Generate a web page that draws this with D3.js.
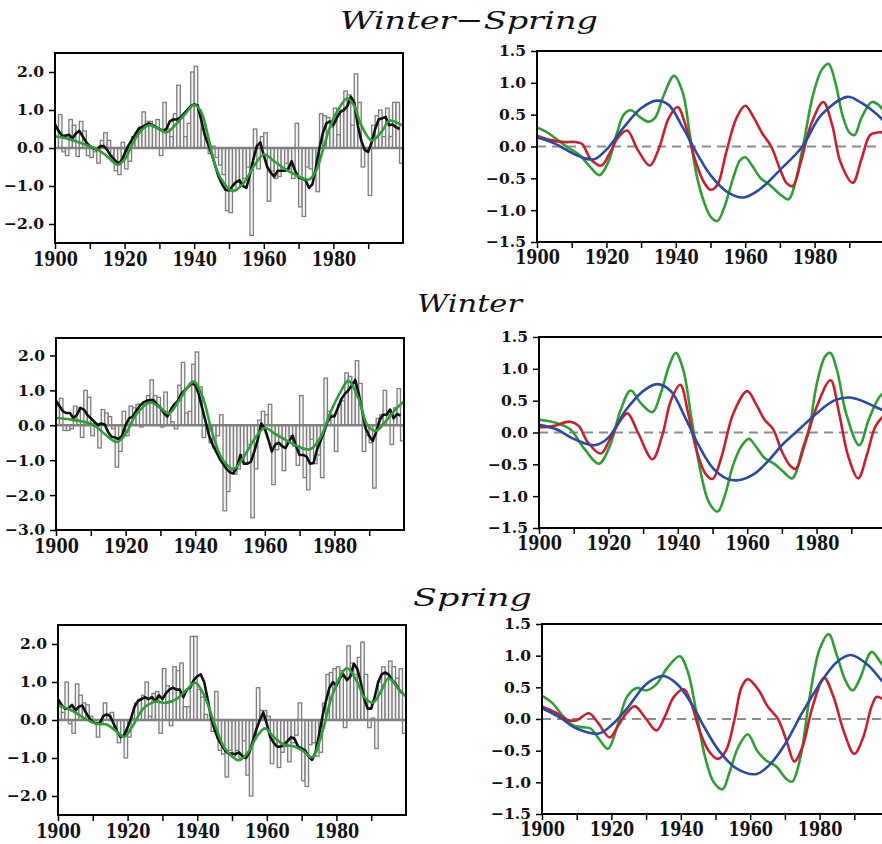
<!DOCTYPE html>
<html lang="en">
<head>
  <meta charset="UTF-8">
  <title>Winter-Spring</title>
  <script src="https://cdn.jsdelivr.net/npm/d3@7/dist/d3.min.js"></script>
  <style>
    body { margin: 0; background: #fff; }
    svg { display: block; }
  </style>
</head>
<body>
  <svg width="882" height="844"></svg>
  <script>
    // yearly index, 1900..1999
    var years = d3.range(1900, 2000)

    // ---- Winter-Spring ----
    var wsBars = [
      0.55, 0.88, -0.1, -0.2, 0.75, 0.6, -0.22, 0.7, 0.45, -0.2,
      -0.25, -0.1, -0.4, 0.2, 0.4, 0.2, -0.2, -0.6, -0.7, 0.15,
      -0.55, -0.35, 0.3, 0.4, 0.55, 0.95, 0.7, 0.7, 0.6, 0.75,
      -0.2, 1.2, 0.5, 0.3, 0.9, 1.65, 0.8, 0.3, 0.65, 2.0,
      2.15, 1.0, 0.5, 0.25, -0.15, 0.05, -0.25, -0.45, -0.7, -1.65,
      -1.7, -1.1, -0.9, -1.0, -0.8, -0.5, -2.3, 0.5, -0.55, 0.3,
      0.4, -1.4, -0.6, -0.8, -0.75, -0.6, -0.4, -0.55, -0.8, 0.65,
      -1.55, -1.8, -0.5, -0.55, -0.7, -1.15, 0.9, 0.85, 0.8, 0.55,
      1.05, 0.35, 1.0, 1.5, 1.4, 0.6, 1.95, 1.2, -0.5, -0.1,
      -1.25, 0.6, 0.85, 1.0, 0.3, 1.05, 0.3, 1.2, 1.2, -0.4
    ]
    var wsMean = [
      0.62, 0.45, 0.33, 0.32, 0.35, 0.25, 0.38, 0.45, 0.3, 0.15,
      0.05, 0.0, -0.05, 0.05, 0.05, -0.05, -0.2, -0.3, -0.4, -0.35,
      -0.15, 0.05, 0.2, 0.35, 0.5, 0.55, 0.6, 0.65, 0.6, 0.55,
      0.5, 0.45, 0.5, 0.7, 0.75, 0.75, 0.8, 0.9, 1.0, 1.1,
      1.15, 1.12, 0.75, 0.35, 0.1, -0.15, -0.45, -0.75, -0.95, -1.1,
      -1.12, -1.0, -0.9, -0.85, -1.0, -1.05, -0.7, -0.3, 0.05, 0.15,
      -0.2, -0.5, -0.65, -0.75, -0.6, -0.6, -0.6, -0.55, -0.35, -0.6,
      -0.78, -0.8, -0.85, -1.05, -0.95, -0.5, 0.0, 0.4, 0.65, 0.7,
      0.6, 0.8, 0.95, 1.0, 1.1, 1.35, 1.2, 0.6, 0.2, -0.05,
      -0.1, 0.15, 0.5, 0.75, 0.78, 0.82, 0.6, 0.62, 0.55, 0.5
    ]
    var wsSmooth = [[1900, 0.31], [1903, 0.26], [1906, 0.18], [1909, 0.08], [1912, -0.03], [1915, -0.22], [1918, -0.44],
      [1920, -0.3], [1922, 0.05], [1924, 0.38], [1927, 0.6], [1929.5, 0.52], [1932, 0.41], [1934.5, 0.6], [1937, 0.85],
      [1940, 1.14], [1942, 0.95], [1944, 0.3], [1946, -0.45], [1948, -0.85], [1951, -1.14], [1954, -0.95], [1957, -0.5],
      [1960, -0.17], [1963, -0.35], [1966, -0.55], [1969, -0.7], [1973, -0.83], [1975, -0.6], [1977, -0.05], [1979, 0.55],
      [1981, 0.95], [1984, 1.31], [1986, 1.1], [1988, 0.6], [1991, 0.2], [1994, 0.45], [1996, 0.72], [1998, 0.68], [2000, 0.58]]
    var wsGreen = [[1900, 0.3], [1903, 0.22], [1906, 0.1], [1909, -0.02], [1912, -0.12], [1915, -0.3], [1918, -0.45],
      [1920.5, -0.25], [1923, 0.2], [1925, 0.5], [1927, 0.57], [1929.5, 0.47], [1932, 0.39], [1934, 0.45], [1936.5, 0.8],
      [1939.5, 1.11], [1942, 0.85], [1944, 0.2], [1946, -0.45], [1948, -0.85], [1950, -1.1], [1952, -1.17], [1954, -0.95],
      [1956.5, -0.5], [1958.5, -0.22], [1960, -0.17], [1962, -0.3], [1964.5, -0.5], [1967, -0.6], [1970, -0.75],
      [1972.5, -0.83], [1974.5, -0.55], [1977, 0.1], [1979.5, 0.8], [1982, 1.2], [1984, 1.3], [1986, 1.0], [1988, 0.5],
      [1990, 0.22], [1991.5, 0.18], [1993.5, 0.45], [1996.5, 0.7], [1998.5, 0.65], [2000, 0.55]]
    var wsRed = [[1900, 0.17], [1904, 0.1], [1908, 0.07], [1911, 0.07], [1913, 0.04], [1915.5, -0.2], [1918.5, -0.3],
      [1921, -0.1], [1923.5, 0.15], [1926, 0.25], [1929, -0.05], [1932.5, -0.3], [1935, -0.05], [1938, 0.45], [1940.5, 0.62],
      [1943, 0.3], [1945.5, -0.2], [1948, -0.55], [1950, -0.68], [1952, -0.6], [1954.5, -0.1], [1957.5, 0.45], [1960, 0.64],
      [1962.5, 0.45], [1965, 0.2], [1967.5, 0.0], [1970, -0.35], [1972, -0.58], [1973.7, -0.62], [1976, -0.25], [1979, 0.35],
      [1982.5, 0.7], [1985, 0.35], [1987.5, -0.25], [1991, -0.57], [1993.5, -0.2], [1996, 0.18], [1998, 0.22], [2000, 0.22]]
    var wsBlue = [[1900, 0.14], [1905, 0.05], [1910, -0.1], [1913.5, -0.18], [1916.5, -0.2], [1920, -0.05], [1925, 0.3],
      [1930, 0.6], [1934.5, 0.72], [1938, 0.65], [1942, 0.3], [1946, -0.1], [1950, -0.45], [1955, -0.72], [1959.5, -0.8],
      [1964, -0.68], [1970, -0.37], [1976.5, 0.0], [1982, 0.5], [1989.5, 0.78], [1993, 0.7], [1997, 0.55], [2000, 0.4]]

    // ---- Winter ----
    var wBars = [
      0.55, 0.77, -0.15, -0.15, -0.1, 0.55, 0.5, -0.35, 1.0, 0.8,
      -0.3, 0.05, -0.65, 0.45, 0.35, 0.25, -0.1, -1.2, -0.75, 0.4,
      -0.3, 0.55, 0.5, 0.6, -0.05, 0.6, 0.85, 1.3, 0.85, 0.8,
      -0.05, 0.95, 0.3, 0.1, -0.1, 1.15, 1.8, 0.35, 0.4, 1.75,
      2.1, 1.1, -0.35, -0.1, -0.5, -0.65, -0.3, 0.3, -2.45, -1.9,
      -1.3, -1.4, -1.25, -0.85, -1.1, -0.55, -2.65, -1.25, 0.15, 0.4,
      0.3, 0.6, -1.7, -0.7, -0.35, -1.3, -0.5, -0.3, -0.6, -1.15,
      0.85, -1.5, -1.85, -0.4, -1.1, -0.85, -1.5, 1.35, 0.4, 0.3,
      -0.75, 0.6, 0.7, 1.5, 1.4, 1.2, 1.85, 1.2, -0.75, -0.3,
      -0.5, -1.8, 0.2, 0.3, 1.0, 0.3, -0.55, 0.5, 1.05, -0.45
    ]
    var wMean = [
      0.7, 0.55, 0.4, 0.35, 0.35, 0.2, 0.3, 0.5, 0.45, 0.3,
      0.2, 0.1, 0.0, 0.05, 0.02, -0.2, -0.33, -0.35, -0.4, -0.3,
      0.0, 0.2, 0.25, 0.4, 0.55, 0.65, 0.7, 0.72, 0.72, 0.6,
      0.5, 0.35, 0.25, 0.45, 0.6, 0.7, 0.9, 1.0, 1.1, 1.2,
      1.15, 0.9, 0.5, 0.1, -0.3, -0.55, -0.75, -0.95, -1.1, -1.25,
      -1.35, -1.38, -1.2, -0.85, -1.1, -1.1, -1.05, -0.75, -0.4, 0.05,
      -0.1, -0.4, -0.75, -0.55, -0.5, -0.6, -0.65, -0.45, -0.3, -0.6,
      -0.85, -0.85, -0.9, -1.1, -1.08, -0.7, -0.45, -0.2, 0.1, 0.25,
      0.25, 0.5, 0.75, 0.9, 1.0, 1.15, 1.3, 0.9, 0.4, -0.1,
      -0.3, -0.45, -0.2, 0.15, 0.3, 0.3, 0.45, 0.2, 0.32, 0.28
    ]
    var wSmooth = [[1900, 0.21], [1904, 0.17], [1908, 0.1], [1911, 0.0], [1914, -0.25], [1917.5, -0.48], [1920, -0.25],
      [1923, 0.3], [1927, 0.65], [1930, 0.5], [1932.5, 0.34], [1935, 0.65], [1939.5, 1.25], [1942, 0.85], [1945, -0.25],
      [1948, -1.0], [1951, -1.25], [1954, -0.9], [1957, -0.4], [1960, -0.08], [1963, -0.25], [1966, -0.42], [1969, -0.58],
      [1973, -0.69], [1976, -0.35], [1979, 0.4], [1982, 1.0], [1984, 1.28], [1987, 0.75], [1989.5, 0.0], [1992, -0.16],
      [1995, 0.15], [1998, 0.5], [2000, 0.68]]
    var wGreen = [[1900, 0.2], [1905, 0.15], [1909, 0.05], [1913, -0.25], [1917.3, -0.49], [1920.5, -0.2], [1923.5, 0.35],
      [1926.4, 0.66], [1929.5, 0.45], [1932.7, 0.32], [1935, 0.6], [1937.5, 1.05], [1939.4, 1.25], [1941.5, 1.0], [1944, 0.2],
      [1946.5, -0.6], [1949, -1.1], [1951.5, -1.24], [1953.5, -1.0], [1956, -0.5], [1958.5, -0.2], [1960.5, -0.1],
      [1962.5, -0.22], [1965, -0.4], [1968, -0.5], [1970.5, -0.62], [1973, -0.72], [1976, -0.25], [1978, 0.1], [1980, 0.75],
      [1982.5, 1.2], [1984, 1.25], [1986, 0.95], [1988.5, 0.3], [1992.3, -0.2], [1995, 0.2], [1998, 0.55], [2000, 0.65]]
    var wRed = [[1900, 0.08], [1904, 0.1], [1909, 0.17], [1911.5, 0.1], [1914, -0.15], [1917.8, -0.33], [1920.5, -0.1],
      [1923, 0.15], [1925.5, 0.3], [1928.5, 0.0], [1932.7, -0.42], [1935.5, -0.05], [1938, 0.5], [1940.7, 0.75], [1943, 0.3],
      [1945.5, -0.3], [1948, -0.65], [1950, -0.73], [1952.5, -0.4], [1956, 0.3], [1960, 0.65], [1962.5, 0.45], [1965, 0.2],
      [1967.5, 0.05], [1970, -0.3], [1972.5, -0.53], [1974, -0.57], [1976.5, -0.2], [1980, 0.4], [1984, 0.82], [1986.5, 0.3],
      [1989, -0.35], [1992, -0.72], [1994.5, -0.35], [1997, 0.1], [2000, 0.3]]
    var wBlue = [[1900, 0.12], [1905, 0.05], [1910, -0.1], [1916, -0.2], [1920, -0.08], [1925, 0.35], [1930, 0.65],
      [1934, 0.76], [1938, 0.65], [1942, 0.25], [1946, -0.2], [1950, -0.55], [1954, -0.72], [1957.5, -0.75], [1962, -0.65],
      [1966, -0.45], [1970, -0.2], [1975, 0.05], [1980, 0.3], [1985, 0.5], [1989.4, 0.55], [1993, 0.5], [1997, 0.4], [2000, 0.33]]

    // ---- Spring ----
    var spBars = [
      0.4, 0.2, 1.0, -0.1, -0.35, 0.95, 0.65, 0.45, 0.4, 0.1,
      0.0, -0.45, -0.05, 0.45, 0.15, 0.2, -0.2, -0.6, -0.45, -1.0,
      -0.45, 0.05, 0.45, 0.55, 0.65, 1.0, 0.1, 0.7, 0.75, -0.35,
      1.35, 0.9, -0.15, 1.4, 1.3, 1.5, 0.35, 0.35, 2.2, 2.2,
      0.8, 0.6, 0.15, 0.0, -0.3, 0.75, -0.8, -0.9, -1.5, -0.8,
      -0.95, -0.8, -1.0, -0.55, -1.45, -2.0, -0.5, 0.85, 0.25, 0.25,
      0.1, -1.15, -0.65, -1.25, -0.85, -0.7, -1.1, -0.6, -0.4, 0.45,
      -1.6, -1.75, -0.65, -0.6, -0.95, -0.85, 0.45, 1.2, 1.25, 1.35,
      1.4, 1.3, -0.2, 1.95, 1.5, 1.2, 1.65, 2.05, 1.2, -0.2,
      0.05, -0.75, 1.0, 1.4, 1.2, 1.55, 1.4, 1.1, 1.35, -0.35
    ]
    var spMean = [
      0.55, 0.4, 0.3, 0.3, 0.4, 0.25, 0.35, 0.38, 0.2, 0.05,
      -0.05, -0.1, -0.08, 0.1, 0.15, 0.1, -0.1, -0.3, -0.45, -0.4,
      -0.2, 0.05, 0.35, 0.5, 0.55, 0.6, 0.55, 0.6, 0.5, 0.65,
      0.55, 0.7, 0.8, 0.85, 0.8, 0.8, 0.6, 0.8, 0.85, 1.05,
      1.15, 1.2, 1.0, 0.55, 0.05, -0.25, -0.5, -0.65, -0.8, -0.88,
      -0.88, -0.9, -0.85, -0.95, -1.0, -0.85, -0.55, -0.25, 0.0, 0.2,
      -0.1, -0.45, -0.6, -0.7, -0.7, -0.65, -0.55, -0.45, -0.5, -0.7,
      -0.75, -0.8, -0.95, -1.05, -0.85, -0.4, 0.1, 0.5, 0.85, 1.0,
      0.9, 1.1, 1.2, 1.05, 1.15, 1.48, 1.35, 1.0, 0.55, 0.3,
      0.3, 0.6, 1.0, 1.2, 1.25, 1.2, 1.05, 0.95, 0.8, 0.7
    ]
    var spSmooth = [[1900, 0.38], [1904, 0.25], [1908, 0.02], [1911, -0.1], [1914, -0.12], [1916.5, -0.28], [1919, -0.44],
      [1921.5, -0.15], [1924.5, 0.3], [1928, 0.48], [1931, 0.45], [1934, 0.55], [1937, 0.8], [1939.5, 0.98], [1942, 0.65],
      [1945, -0.1], [1948, -0.75], [1952, -1.06], [1955, -0.8], [1957, -0.45], [1959.5, -0.22], [1962, -0.45], [1965, -0.65],
      [1968, -0.7], [1970.5, -0.82], [1973, -0.98], [1976, -0.3], [1979, 0.7], [1983, 1.36], [1986, 1.0], [1988, 0.6],
      [1990.5, 0.46], [1992.5, 0.7], [1995, 1.1], [1998, 0.8], [2000, 0.62]]
    var spGreen = [[1900, 0.37], [1903, 0.25], [1906, 0.05], [1909, -0.1], [1912, -0.13], [1914, -0.15], [1916.5, -0.32],
      [1919, -0.47], [1921.5, -0.15], [1924.5, 0.35], [1927.3, 0.49], [1930, 0.45], [1933, 0.55], [1936, 0.8], [1939.7, 0.99],
      [1942, 0.75], [1944.5, 0.1], [1947, -0.6], [1949.5, -1.0], [1952, -1.11], [1954, -0.85], [1956.5, -0.45], [1959.3, -0.24],
      [1962, -0.5], [1964.5, -0.65], [1967.5, -0.75], [1970.5, -0.95], [1972.1, -0.99], [1974.5, -0.6], [1977, 0.3], [1980, 1.1],
      [1982.6, 1.34], [1985, 1.0], [1987.5, 0.6], [1989.5, 0.45], [1991.5, 0.62], [1995, 1.06], [1997.5, 0.9], [2000, 0.7]]
    var spRed = [[1900, 0.2], [1904, 0.1], [1907.7, -0.02], [1910, -0.02], [1913.5, 0.09], [1916, -0.05], [1919.5, -0.29],
      [1922, -0.1], [1924.5, 0.1], [1926.8, 0.2], [1930, 0.0], [1933, -0.18], [1935.5, 0.05], [1938, 0.35], [1940.9, 0.47],
      [1943, 0.25], [1945.5, -0.2], [1948, -0.5], [1950.7, -0.63], [1953, -0.5], [1955.5, 0.0], [1957.5, 0.5], [1959.3, 0.63],
      [1962.5, 0.45], [1965, 0.2], [1968, 0.0], [1970.5, -0.35], [1972.7, -0.67], [1975, -0.45], [1978, 0.2], [1981.3, 0.65],
      [1984, 0.35], [1987, -0.2], [1990, -0.55], [1992.5, -0.3], [1995, 0.2], [1996.5, 0.35], [1998.5, 0.3], [2000, 0.2]]
    var spBlue = [[1900, 0.17], [1905, 0.03], [1910, -0.15], [1916.3, -0.23], [1920, -0.1], [1925, 0.2], [1930, 0.55],
      [1934.9, 0.68], [1939, 0.55], [1943, 0.25], [1947, -0.15], [1951, -0.5], [1956, -0.78], [1961.7, -0.87], [1966, -0.7],
      [1970, -0.4], [1975, 0.1], [1980, 0.55], [1985, 0.9], [1989, 1.01], [1994, 0.85], [1998, 0.6], [2000, 0.5]]

    var titles = ['Winter\u2212Spring', 'Winter', 'Spring']

    // rows: left bar panel + right curve panel
    var rows = [
      { title: titles[0], tx: 340, ty: 29, tw: 258,
        bars: wsBars, mean: wsMean, smooth: wsSmooth, yDomain: [-2.5, 2.5], yTicks: [-2, -1, 0, 1, 2], lx: 55, ly: 53, lh: 190,
        green: wsGreen, red: wsRed, blue: wsBlue, rx: 537, ry: 51, rh: 191 },
      { title: titles[1], tx: 417, ty: 312, tw: 105,
        bars: wBars, mean: wMean, smooth: wSmooth, yDomain: [-3, 2.5], yTicks: [-3, -2, -1, 0, 1, 2], lx: 56, ly: 338, lh: 192,
        green: wGreen, red: wRed, blue: wBlue, rx: 539, ry: 337, rh: 191 },
      { title: titles[2], tx: 413, ty: 606, tw: 119,
        bars: spBars, mean: spMean, smooth: spSmooth, yDomain: [-2.5, 2.5], yTicks: [-2, -1, 0, 1, 2], lx: 58, ly: 625, lh: 190,
        green: spGreen, red: spRed, blue: spBlue, rx: 542, ry: 624, rh: 190 }
    ]

    var svg = d3.select('svg')
    var fmt = d3.format('.1f')
    var decades = d3.range(1900, 2000, 10)

    function styleAxis(a, size, sx) {
      a.select('.domain').remove()
      a.selectAll('.tick line').attr('stroke', '#000').attr('stroke-width', 1.5)
      a.selectAll('.tick text')
        .attr('fill', '#111')
        .attr('transform', sx ? `scale(${sx},1)` : null)
        .style('font-family', '"DejaVu Serif", serif')
        .style('font-weight', 'bold')
        .style('font-size', size + 'px')
    }

    function barPanel(r) {
      var w = 348
      var g = svg.append('g').attr('transform', `translate(${r.lx},${r.ly})`)
      var x = d3.scaleLinear().domain([1900, 2000]).range([0, w])
      var y = d3.scaleLinear().domain(r.yDomain).range([r.lh, 0])

      g.append('g')
        .selectAll('rect')
        .data(r.bars)
        .enter()
        .append('rect')
        .attr('x', (d, i) => x(years[i]))
        .attr('width', x(1901) - x(1900))
        .attr('y', d => y(Math.max(0, d)))
        .attr('height', d => Math.abs(y(d) - y(0)))
        .attr('fill', '#f4f4f4')
        .attr('stroke', '#7e7e7e')
        .attr('stroke-width', 1.3)

      g.append('line')
        .attr('x1', 0).attr('x2', w)
        .attr('y1', y(0)).attr('y2', y(0))
        .attr('stroke', '#808080')
        .attr('stroke-width', 2.5)

      var meanLine = d3.line()
        .x((d, i) => x(years[i]))
        .y(d => y(d))
      g.append('path')
        .attr('d', meanLine(r.mean))
        .attr('fill', 'none')
        .attr('stroke', '#111')
        .attr('stroke-width', 2.6)
        .attr('stroke-linejoin', 'round')

      var smoothLine = d3.line()
        .x(d => x(d[0]))
        .y(d => y(d[1]))
        .curve(d3.curveCatmullRom)
      g.append('path')
        .attr('d', smoothLine(r.smooth))
        .attr('fill', 'none')
        .attr('stroke', '#2f9e35')
        .attr('stroke-width', 2.6)

      g.append('rect')
        .attr('width', w).attr('height', r.lh)
        .attr('fill', 'none')
        .attr('stroke', '#000')
        .attr('stroke-width', 2)

      g.append('g')
        .attr('transform', `translate(0,${r.lh})`)
        .call(d3.axisBottom(x).tickValues(decades).tickFormat(d => d % 20 === 0 ? d : '').tickSize(6).tickPadding(3))
        .call(a => styleAxis(a, 20, 0.8))
      g.append('g')
        .call(d3.axisLeft(y).tickValues(r.yTicks).tickFormat(fmt).tickSize(6).tickPadding(5))
        .call(a => styleAxis(a, 15.5))
    }

    function curvePanel(r) {
      var w = 347
      var g = svg.append('g').attr('transform', `translate(${r.rx},${r.ry})`)
      var x = d3.scaleLinear().domain([1900, 2000]).range([0, w])
      var y = d3.scaleLinear().domain([-1.5, 1.5]).range([r.rh, 0])

      g.append('line')
        .attr('x1', 0).attr('x2', w)
        .attr('y1', y(0)).attr('y2', y(0))
        .attr('stroke', '#8c8c8c')
        .attr('stroke-width', 2)
        .attr('stroke-dasharray', '9,6')

      var line = d3.line()
        .x(d => x(d[0]))
        .y(d => y(d[1]))
        .curve(d3.curveCatmullRom)
      var series = [[r.green, '#2f9e35'], [r.red, '#c8202f'], [r.blue, '#2b4c9e']]
      series.forEach(s => {
        g.append('path')
          .attr('d', line(s[0]))
          .attr('fill', 'none')
          .attr('stroke', s[1])
          .attr('stroke-width', 2.6)
      })

      g.append('rect')
        .attr('width', w).attr('height', r.rh)
        .attr('fill', 'none')
        .attr('stroke', '#000')
        .attr('stroke-width', 2)

      g.append('g')
        .attr('transform', `translate(0,${r.rh})`)
        .call(d3.axisBottom(x).tickValues(decades).tickFormat(d => d % 20 === 0 ? d : '').tickSize(6).tickPadding(2))
        .call(a => styleAxis(a, 20, 0.8))
      g.append('g')
        .call(d3.axisLeft(y).tickValues([-1.5, -1, -0.5, 0, 0.5, 1, 1.5]).tickFormat(fmt).tickSize(6).tickPadding(5))
        .call(a => styleAxis(a, 15.5))
    }

    rows.forEach(r => {
      var t = svg.append('text')
        .style('font-family', '"DejaVu Serif", serif')
        .style('font-style', 'italic')
        .style('font-size', '25px')
        .attr('fill', '#111')
        .text(r.title)
      var natural = t.node().getComputedTextLength()
      t.attr('transform', `translate(${r.tx},${r.ty}) scale(${r.tw / natural},1)`)
      barPanel(r)
      curvePanel(r)
    })
  </script>
</body>
</html>
